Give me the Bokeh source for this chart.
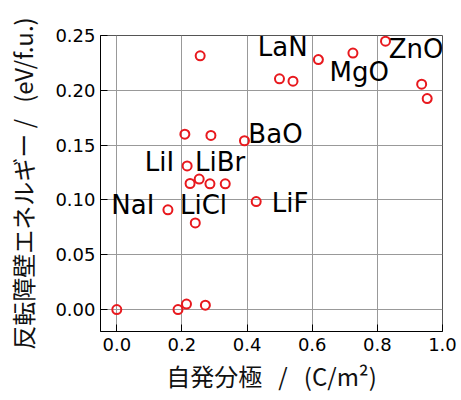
from bokeh.plotting import figure
from bokeh.models import Range1d, FixedTicker, PrintfTickFormatter, ColumnDataSource
from bokeh.embed import file_html
from bokeh.resources import INLINE
from bokeh.core.properties import value

# spontaneous polarization (C/m^2) and switching barrier (eV/f.u.)
polarization = [0.0, 0.188, 0.214, 0.272, 0.157, 0.241, 0.428, 0.225, 0.253,
                0.286, 0.333, 0.216, 0.256, 0.209, 0.289, 0.392, 0.4995, 0.541,
                0.619, 0.725, 0.825, 0.936, 0.953]
barrier = [0.0, 0.0, 0.005, 0.004, 0.091, 0.079, 0.0985, 0.115, 0.119,
           0.1147, 0.1147, 0.131, 0.2315, 0.160, 0.1588, 0.154, 0.2105, 0.2083,
           0.228, 0.234, 0.2448, 0.2056, 0.1925]

# material labels and their anchor positions (data units, left / vertical middle)
label_names = ["LaN", "MgO", "ZnO", "BaO", "LiI", "LiBr", "NaI", "LiCl", "LiF"]
label_x = [0.433, 0.653, 0.835, 0.404, 0.086, 0.240, -0.017, 0.194, 0.476]
label_y = [0.2391, 0.2165, 0.2377, 0.1601, 0.1347, 0.1347, 0.0958, 0.0958, 0.0970]

x_ticks = [0.0, 0.2, 0.4, 0.6, 0.8, 1.0]
y_ticks = [0.00, 0.05, 0.10, 0.15, 0.20, 0.25]

NB = "\u00a0"
x_label = "自発分極" + NB * 3 + "/" + NB * 3 + "(C/m²)"
y_label = "反転障壁エネルギー" + NB + "/" + NB * 3 + "(eV/f.u.)"

p = figure(width=461, height=400, output_backend="svg", toolbar_location=None,
           x_range=Range1d(-0.05, 1.0), y_range=Range1d(-0.02, 0.25),
           min_border_left=100, min_border_right=19, min_border_top=35,
           min_border_bottom=69)

p.background_fill_color = "white"
p.border_fill_color = "white"
p.outline_line_color = "#555555"
p.outline_line_width = 1

for ax, ticks, fmt in ((p.xaxis, x_ticks, "%.1f"), (p.yaxis, y_ticks, "%.2f")):
    ax.ticker = FixedTicker(ticks=ticks)
    ax.formatter = PrintfTickFormatter(format=fmt)
    ax.major_tick_in = 7
    ax.major_tick_out = 0
    ax.minor_tick_line_color = None
    ax.axis_line_color = "black"
    ax.major_tick_line_color = "black"
    ax.major_label_text_font = "DejaVu Sans"
    ax.major_label_text_font_size = "18px"
    ax.major_label_text_color = "black"
    ax.axis_label_text_font = "Noto Sans CJK JP"
    ax.axis_label_text_font_size = "24px"
    ax.axis_label_text_font_style = "normal"
    ax.axis_label_text_color = "#111111"

p.xaxis.axis_label = x_label
p.yaxis.axis_label = y_label
p.xaxis.major_label_standoff = 6
p.xaxis.axis_label_standoff = 4
p.yaxis.major_label_standoff = 5
p.yaxis.axis_label_standoff = 12

p.xgrid.ticker = FixedTicker(ticks=x_ticks)
p.ygrid.ticker = FixedTicker(ticks=y_ticks)
p.grid.grid_line_color = "#999999"
p.grid.grid_line_width = 1

src = ColumnDataSource(data=dict(x=polarization, y=barrier))
p.scatter("x", "y", source=src, marker="circle", size=9, fill_color=None,
          line_color="#e8191e", line_width=2)

lsrc = ColumnDataSource(data=dict(x=label_x, y=label_y, t=label_names))
p.text("x", "y", text="t", source=lsrc, text_font=value("DejaVu Sans"),
       text_font_size="26px", text_align="left", text_baseline="middle",
       text_color="black")

open("out.html", "w").write(file_html(p, INLINE))
